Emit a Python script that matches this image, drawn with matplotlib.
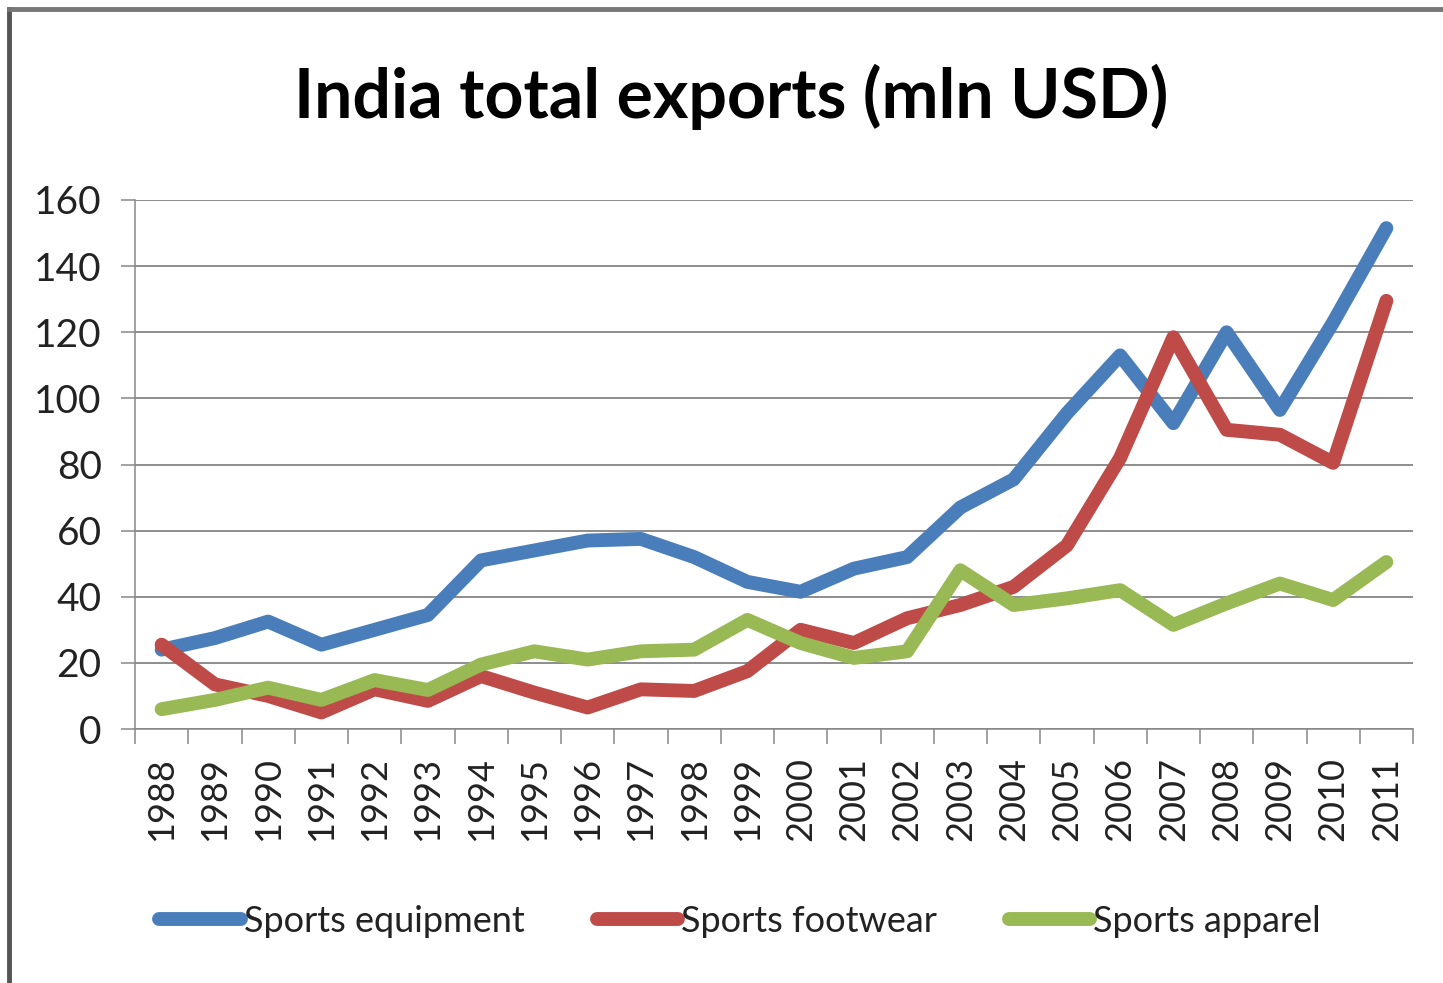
import matplotlib
matplotlib.use("Agg")
import matplotlib.pyplot as plt
from matplotlib.lines import Line2D
import numpy as np

plt.rcParams['font.family'] = ['Lato', 'DejaVu Sans']

years = ["1988", "1989", "1990", "1991", "1992", "1993", "1994", "1995", "1996",
         "1997", "1998", "1999", "2000", "2001", "2002", "2003", "2004", "2005",
         "2006", "2007", "2008", "2009", "2010", "2011"]
sports_equipment = [24, 27.5, 32.5, 25.5, 30, 34.5, 51, 54, 57, 57.5, 52, 44.5,
                    41.5, 48.5, 52, 67, 75.5, 95.5, 113, 92.5, 120, 96.5, 123, 151.5]
sports_footwear = [25.5, 13.5, 10, 5, 12, 8.5, 16, 11, 6.5, 12, 11.5, 17.5,
                   30, 26, 33.5, 37.5, 43, 55.5, 82, 118.5, 90.5, 89, 80.5, 129.5]
sports_apparel = [6, 8.8, 12.5, 8.8, 14.8, 11.8, 19.5, 23.5, 21, 23.5, 24, 33,
                  26, 21.5, 23.5, 48, 37.5, 39.5, 42, 31.5, 38, 44, 39, 50.5]
series_names = ["Sports equipment", "Sports footwear", "Sports apparel"]
colors = ["#4A7EBB", "#BE4B48", "#98B954"]
yticks = [0, 20, 40, 60, 80, 100, 120, 140, 160]

W, H = 1443, 983
fig = plt.figure(figsize=(W / 100, H / 100), dpi=100)
fig.patch.set_facecolor("white")

ax = fig.add_axes([135 / W, (H - 729) / H, (1413 - 135) / W, (729 - 200) / H])
x = np.arange(len(years))
for vals, name, c in zip([sports_equipment, sports_footwear, sports_apparel], series_names, colors):
    ax.plot(x, vals, color=c, lw=10, solid_capstyle="round", solid_joinstyle="round", label=name)

ax.set_xlim(-0.5, len(years) - 0.5)
ax.set_ylim(0, 160)
ax.set_yticks(yticks)
ax.set_yticklabels([str(v) for v in yticks], fontsize=28, color="#222222")
ax.set_xticks(x)
ax.set_xticklabels(years, rotation=90, fontsize=26, color="#222222")
ax.set_xticks(np.arange(-0.5, len(years), 1.0), minor=True)
ax.tick_params(axis="x", which="major", length=0, pad=20)
ax.tick_params(axis="x", which="minor", length=11, width=1.1, color="#888888")
ax.tick_params(axis="y", which="major", length=10, width=1.1, color="#888888", pad=14)
ax.grid(axis="y", color="#858585", lw=1.3)
ax.set_axisbelow(True)
for s in ["top", "right"]:
    ax.spines[s].set_visible(False)
for s in ["left", "bottom"]:
    ax.spines[s].set_color("#888888")
    ax.spines[s].set_linewidth(1.1)

fig.text(731 / W, 1 - 97 / H, "India total exports (mln USD)", ha="center", va="center",
         fontsize=49, fontweight="bold", color="black")

handles, labels = ax.get_legend_handles_labels()
leg = fig.legend(handles, labels, loc="center", bbox_to_anchor=(740 / W, 1 - 921 / H), ncol=3,
                 frameon=False, fontsize=26, handlelength=2.25, handletextpad=0.08,
                 columnspacing=2.0)
for t in leg.get_texts():
    t.set_color("#222222")

# outer frame (top and left edges)
fig.add_artist(Line2D([9 / W, 9 / W], [0, 1 - 9 / H], color="#555555", lw=3.5,
                      transform=fig.transFigure))
fig.add_artist(Line2D([9 / W, 1], [1 - 9 / H, 1 - 9 / H], color="#777777", lw=3.5,
                      transform=fig.transFigure))

fig.savefig("out.png", dpi=100)
